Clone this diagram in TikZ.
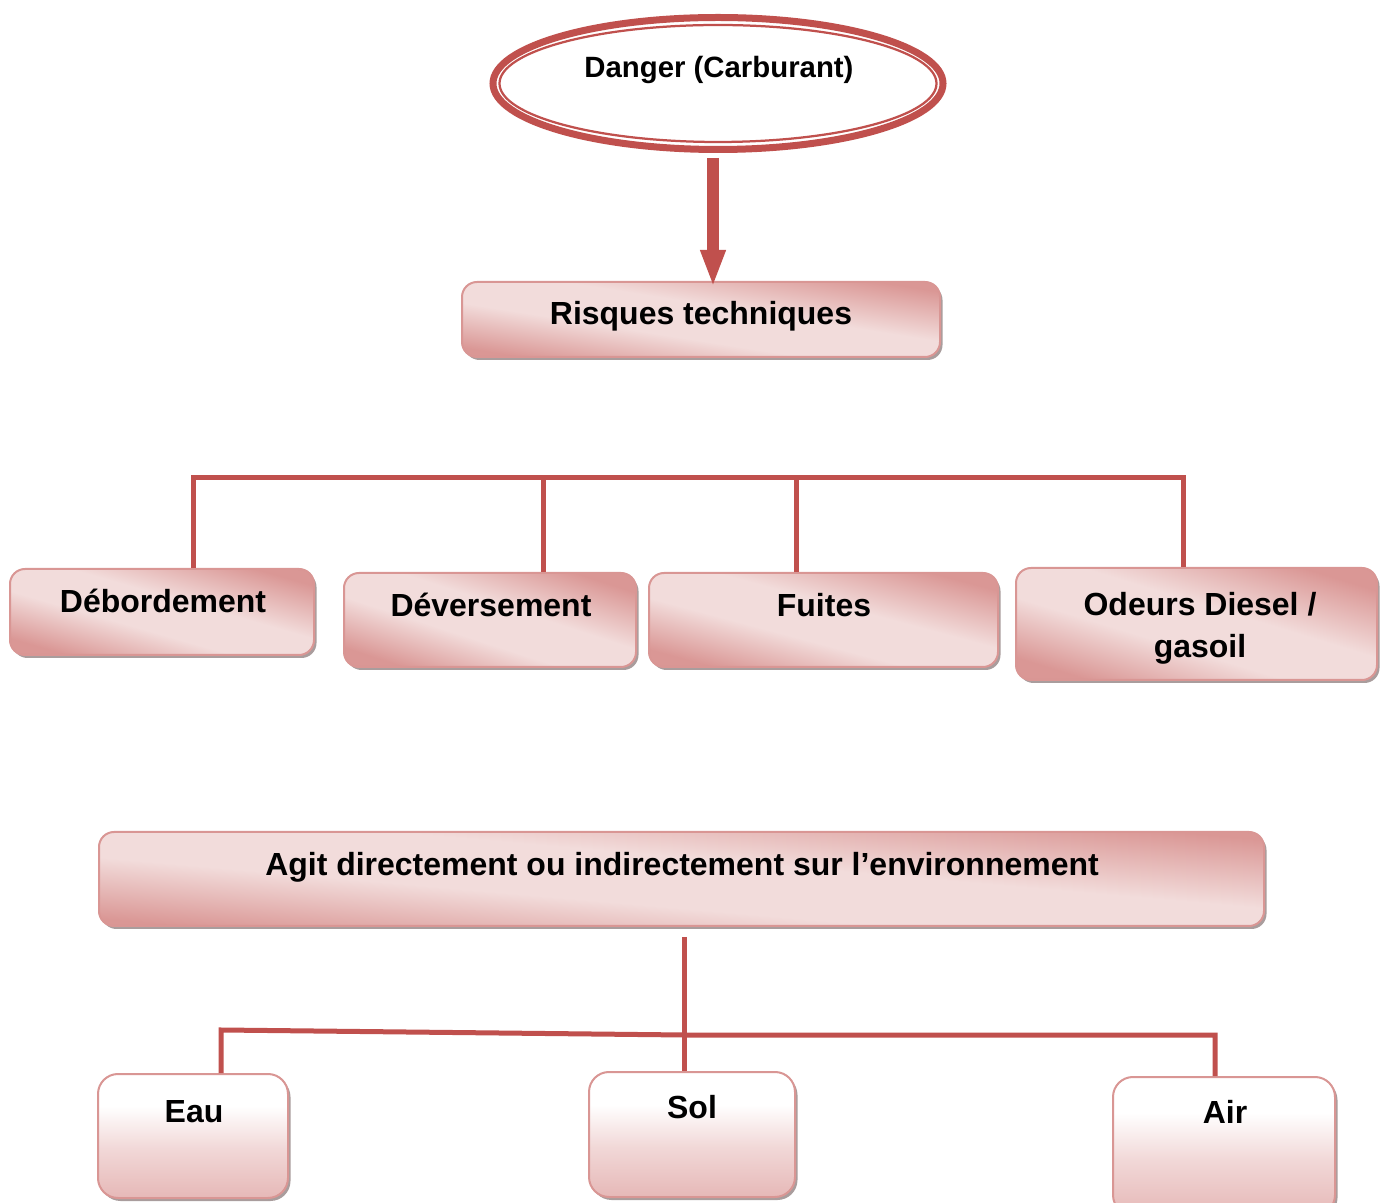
\documentclass[tikz,border=0pt]{standalone}
\usepackage{fontspec}
\setmainfont{Liberation Sans}
\usetikzlibrary{arrows.meta,calc,positioning,fit,shadows,shapes.geometric}
\definecolor{riskred}{HTML}{C0504D}
\definecolor{riskedge}{HTML}{D99694}
\definecolor{riskdark}{HTML}{DA9795}
\definecolor{risklight}{HTML}{F2DCDB}
\definecolor{riskfade}{HTML}{E6B8B7}
\definecolor{riskshadow}{HTML}{A99D9D}
\pgfdeclareverticalshading{riskband}{100bp}{color(0bp)=(riskdark); color(25bp)=(riskdark);
  color(42bp)=(risklight); color(56bp)=(risklight); color(75bp)=(riskdark); color(100bp)=(riskdark)}
\pgfdeclareverticalshading{riskwash}{100bp}{color(0bp)=(riskfade); color(25bp)=(riskfade);
  color(45bp)=(riskfade!55!white); color(62bp)=(white); color(100bp)=(white)}
\tikzset{
  boxtext/.style={font=\fontsize{18.2}{24.4}\selectfont\bfseries, text=black, align=center,
    anchor=base, inner sep=0pt},
  dangertext/.style={font=\fontsize{16.7}{19}\selectfont\bfseries, text=black,
    anchor=base, inner sep=0pt},
  bandbox/.style={draw=riskedge, line width=.4mm, rounded corners=3mm, shade, shading=riskband,
    shading angle=#1, inner sep=0pt,
    drop shadow={shadow xshift=.5mm, shadow yshift=-.6mm, fill=riskshadow, opacity=1}},
  washbox/.style={draw=riskedge, line width=.4mm, rounded corners=4mm, shade, shading=riskwash,
    inner sep=0pt,
    drop shadow={shadow xshift=.5mm, shadow yshift=-.6mm, fill=riskshadow, opacity=1}},
  dangerring/.style={ellipse, draw=riskred, line width=1.4mm, inner sep=0pt,
    minimum width=90mm, minimum height=26.4mm},
  dangerinner/.style={draw=riskred, line width=.45mm},
  treeline/.style={draw=riskred, line width=1mm},
  bigarrow/.style={draw=riskred, line width=2.4mm, shorten >=-1.2mm,
    -{Triangle[width=4.6mm, length=7.4mm]}}
}

\begin{document}
\begin{tikzpicture}[x=.2mm,y=-.2mm]
  \clip (0,0) rectangle (1381,1203);
  % danger, then the technical risks and what they act on
  \node[dangerring] (dang) at (718,83.5) {};
  \draw[dangerinner] (dang.center) ellipse [x radius=43.7mm, y radius=11.7mm];
  \node[dangertext] (dangtxt) at (719,78) {Danger (Carburant)};

  \node[bandbox=-9, fit={(462,282) (940,357)}] (risk) {};
  \node[boxtext] (risktxt) at (701,325) {Risques techniques};
  \coordinate (drop) at (713,158);
  \draw[bigarrow] (drop) -- (drop |- risk.north);

  \node[bandbox=-16, fit={(10,569) (314,655)}] (deb) {};
  \node[bandbox=-18, fit={(344,573) (636,667)}] (dev) {};
  \node[bandbox=-15, fit={(649,573) (998,667)}] (fui) {};
  \node[bandbox=-17, fit={(1016,568) (1377,680)}] (ode) {};
  \node[boxtext] (debtxt) at (163,613) {Débordement};
  \node[boxtext] (devtxt) at (491,617) {Déversement};
  \node[boxtext] (fuitxt) at (824,617) {Fuites};
  \node[boxtext] (odetxt) at (1200,658) {Odeurs Diesel /\\gasoil};

  \coordinate (t1) at (193,478);
  \coordinate (t2) at (543,478);
  \coordinate (t3) at (796,478);
  \coordinate (t4) at (1183,478);
  \draw[treeline] (t1 |- deb.north) -- (t1) -- (t4) -- (t4 |- ode.north);
  \draw[treeline] (t2) -- (t2 |- dev.north);
  \draw[treeline] (t3) -- (t3 |- fui.north);

  \node[bandbox=-5, fit={(99,832) (1264,926)}] (agit) {};
  \node[boxtext] (agittxt) at (682,876) {Agit directement ou indirectement sur l’environnement};

  \node[washbox, fit={(98,1074) (288,1198)}] (eau) {};
  \node[washbox, fit={(589,1072) (795,1197)}] (sol) {};
  \node[washbox, fit={(1113,1077) (1335,1215)}] (air) {};
  \node[boxtext] (eautxt) at (194,1122) {Eau};
  \node[boxtext] (soltxt) at (692,1118) {Sol};
  \node[boxtext] (airtxt) at (1225,1123) {Air};

  \coordinate (a0) at (684,937);
  \coordinate (a1) at (221,1030);
  \coordinate (a2) at (684,1035);
  \coordinate (a3) at (1215,1035);
  \draw[treeline] (a0) -- (a0 |- sol.north);
  \draw[treeline] (a1 |- eau.north) -- (a1) -- (a2) -- (a3) -- (a3 |- air.north);
\end{tikzpicture}
\end{document}
